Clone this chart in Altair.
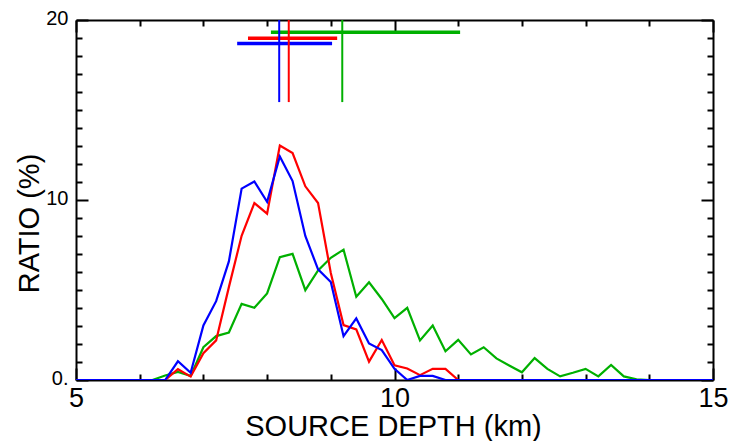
import altair as alt
import pandas as pd

depth = [5.0, 5.2, 5.4, 5.6, 5.8, 6.0, 6.2, 6.4, 6.6, 6.8,
         7.0, 7.2, 7.4, 7.6, 7.8, 8.0, 8.2, 8.4, 8.6, 8.8,
         9.0, 9.2, 9.4, 9.6, 9.8, 10.0, 10.2, 10.4, 10.6, 10.8,
         11.0, 11.2, 11.4, 11.6, 11.8, 12.0, 12.2, 12.4, 12.6, 12.8,
         13.0, 13.2, 13.4, 13.6, 13.8, 14.0, 14.2, 14.4, 14.6, 14.8, 15.0]

green = [0, 0, 0, 0, 0, 0, 0, 0.25, 0.45, 0.23,
         1.82, 2.44, 2.64, 4.23, 4.01, 4.81, 6.83, 7.01, 4.99, 6.09,
         6.79, 7.24, 4.62, 5.43, 4.5, 3.44, 4.01, 2.2, 3.03, 1.6,
         2.23, 1.42, 1.82, 1.2, 0.81, 0.43, 1.22, 0.62, 0.2, 0.4,
         0.62, 0.2, 0.84, 0.2, 0.04, 0, 0, 0, 0, 0, 0]
red = [0, 0, 0, 0, 0, 0, 0, 0, 0.6, 0.19,
       1.49, 2.2, 5.16, 8.01, 9.83, 9.24, 13.03, 12.61, 10.76, 9.83,
       5.95, 3.05, 2.81, 1.02, 2.22, 0.82, 0.64, 0.27, 0.62, 0.62,
       0, 0, 0, 0, 0, 0, 0, 0, 0, 0,
       0, 0, 0, 0, 0, 0, 0, 0, 0, 0, 0]
blue = [0, 0, 0, 0, 0, 0, 0, 0, 1.04, 0.40,
        3.03, 4.38, 6.59, 10.63, 11.03, 9.9, 12.42, 11.05, 8.0, 6.15,
        5.44, 2.43, 3.42, 2.03, 1.66, 0.62, 0, 0.23, 0.23, 0,
        0, 0, 0, 0, 0, 0, 0, 0, 0, 0,
        0, 0, 0, 0, 0, 0, 0, 0, 0, 0, 0]

# summary bars at top: name, low, high, centre, bar level
err_names = ["green", "red", "blue"]
err_lo = [8.06, 7.70, 7.53]
err_hi = [11.03, 9.10, 9.02]
err_center = [9.18, 8.34, 8.19]
err_level = [19.32, 18.98, 18.70]
vline_top = 20.0
vline_bottom = 15.44

colors = {"green": "#00b000", "red": "#ff0000", "blue": "#0000ff"}

x_ticks = [5, 6, 7, 8, 9, 10, 11, 12, 13, 14, 15]
y_ticks = list(range(0, 21))

FONT = "Liberation Sans"

curves = pd.DataFrame({"depth": depth, "green": green, "red": red, "blue": blue})
err = pd.DataFrame({"name": err_names, "lo": err_lo, "hi": err_hi,
                    "center": err_center, "level": err_level,
                    "top": [vline_top] * 3, "bottom": [vline_bottom] * 3})

xscale = alt.Scale(domain=[5, 15], nice=False, zero=False)
yscale = alt.Scale(domain=[0, 20], nice=False)
cscale = alt.Scale(domain=list(colors.keys()), range=list(colors.values()))

x_tick_size = {"condition": {"test": "datum.value % 5 == 0", "value": -12}, "value": -6}
y_tick_size = {"condition": {"test": "datum.value % 10 == 0", "value": -12}, "value": -6}

common_axis = dict(domainColor="black", domainWidth=2, tickColor="black", tickWidth=2,
                   grid=False, labelFont=FONT, titleFont=FONT, labelColor="black",
                   titleColor="black", titleFontWeight="normal")

x_bottom = alt.Axis(orient="bottom", values=x_ticks, tickSize=x_tick_size,
                    labelExpr="datum.value % 5 == 0 ? datum.label : ''",
                    labelFontSize=27, labelPadding=17, labelBaseline="top",
                    title="SOURCE DEPTH (km)", titleFontSize=29,
                    titleX=317, titleY=55, titleBaseline="alphabetic", titleAnchor="middle",
                    labelFlush=False, labelOverlap=False, **common_axis)
y_left = alt.Axis(orient="left", values=y_ticks, tickSize=y_tick_size,
                  labelExpr="datum.value == 0 ? '0.' : (datum.value % 10 == 0 ? datum.label : '')",
                  labelFontSize=20, labelPadding=20, labelBaseline="middle", labelOffset=-2,
                  title="RATIO (%)", titleFontSize=29, titleX=-38, titleY=203,
                  titleBaseline="alphabetic", titleAngle=-90, titleAnchor="middle",
                  labelFlush=False, labelOverlap=False, **common_axis)
x_top = alt.Axis(orient="top", values=x_ticks, tickSize=x_tick_size, labels=False,
                 title=None, **common_axis)
y_right = alt.Axis(orient="right", values=y_ticks, tickSize=y_tick_size, labels=False,
                   title=None, **common_axis)


def curve_layer(name, axes):
    xa, ya = axes if axes else (None, None)
    return alt.Chart(curves).mark_line(strokeWidth=2.2, color=colors[name], clip=True).encode(
        x=alt.X("depth:Q", scale=xscale, axis=xa),
        y=alt.Y(f"{name}:Q", scale=yscale, axis=ya),
    )


hbars = alt.Chart(err).mark_rule(strokeWidth=3.5).encode(
    x=alt.X("lo:Q", scale=xscale, axis=x_top),
    x2="hi:Q",
    y=alt.Y("level:Q", scale=yscale, axis=y_right),
    color=alt.Color("name:N", scale=cscale, legend=None),
)
vbars = alt.Chart(err).mark_rule(strokeWidth=2).encode(
    x=alt.X("center:Q", scale=xscale, axis=None),
    y=alt.Y("top:Q", scale=yscale, axis=None),
    y2="bottom:Q",
    color=alt.Color("name:N", scale=cscale, legend=None),
)

chart = alt.layer(
    curve_layer("green", (x_bottom, y_left)),
    curve_layer("red", None),
    curve_layer("blue", None),
    hbars,
    vbars,
).resolve_axis(x="independent", y="independent").properties(
    width=637, height=360,
    autosize=alt.AutoSizeParams(type="none"),
    padding={"left": 76, "top": 20, "right": 16, "bottom": 61},
    background="white",
).configure_view(stroke=None)

chart.save("out.html", embed_options={"renderer": "svg", "actions": False})
